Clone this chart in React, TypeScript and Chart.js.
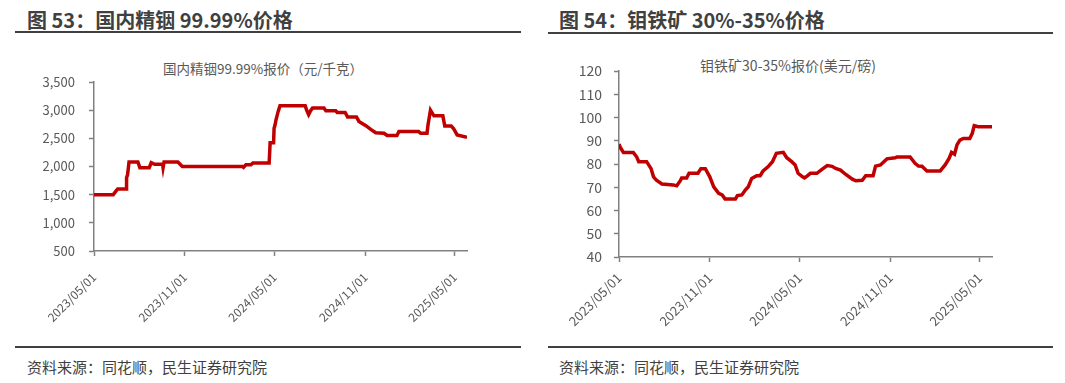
import React, { useEffect, useRef } from "react";
import { Chart, registerables } from "chart.js";

Chart.register(...registerables);

// ---------- data ----------
const xTickLabels = ["2023/05/01", "2023/11/01", "2024/05/01", "2024/11/01", "2025/05/01"];
const xEndDate = "2025/05/26";

const indiumDates = [
  "2023-05-01", "2023-06-09", "2023-06-16", "2023-06-18", "2023-07-05", "2023-07-06", "2023-07-08", "2023-07-11",
  "2023-07-29", "2023-08-02", "2023-08-21", "2023-08-25", "2023-09-01", "2023-09-17", "2023-09-18", "2023-09-20",
  "2023-10-18", "2023-10-27", "2024-02-26", "2024-02-28", "2024-03-04", "2024-03-14", "2024-03-18", "2024-04-20",
  "2024-04-22", "2024-04-29", "2024-04-30", "2024-05-02", "2024-05-04", "2024-05-06", "2024-05-08", "2024-05-12",
  "2024-07-02", "2024-07-05", "2024-07-09", "2024-07-13", "2024-07-17", "2024-08-09", "2024-08-13", "2024-09-02",
  "2024-09-05", "2024-09-21", "2024-09-26", "2024-10-14", "2024-10-19", "2024-11-02", "2024-11-12", "2024-11-22",
  "2024-12-09", "2024-12-15", "2025-01-04", "2025-01-08", "2025-02-17", "2025-02-21", "2025-03-06", "2025-03-08",
  "2025-03-13", "2025-03-20", "2025-04-07", "2025-04-11", "2025-04-24", "2025-04-29", "2025-05-06", "2025-05-26",
];
const indiumValues = [
  1500, 1500, 1580, 1600, 1600, 1800, 1850, 2080,
  2080, 1980, 1980, 2070, 2040, 2040, 1980, 2080,
  2080, 2000, 2000, 1985, 2030, 2030, 2060, 2060,
  2420, 2420, 2680, 2740, 2830, 2900, 2970, 3080,
  3080, 3000, 2920, 2990, 3040, 3040, 2990, 2990,
  2960, 2960, 2880, 2880, 2800, 2725, 2660, 2600,
  2590, 2550, 2550, 2620, 2620, 2590, 2590, 2740,
  3000, 2900, 2900, 2720, 2720, 2670, 2560, 2520,
];

const moDates = [
  "2023-05-01", "2023-05-04", "2023-05-10", "2023-05-30", "2023-06-06", "2023-06-10", "2023-06-26", "2023-07-05",
  "2023-07-10", "2023-07-16", "2023-07-27", "2023-08-19", "2023-08-26", "2023-09-02", "2023-09-05", "2023-09-15",
  "2023-09-20", "2023-10-08", "2023-10-14", "2023-10-23", "2023-11-01", "2023-11-09", "2023-11-19", "2023-11-26",
  "2023-12-02", "2023-12-23", "2023-12-27", "2024-01-05", "2024-01-12", "2024-01-18", "2024-01-25", "2024-02-04",
  "2024-02-11", "2024-02-17", "2024-02-27", "2024-03-07", "2024-03-15", "2024-03-29", "2024-04-05", "2024-04-15",
  "2024-04-22", "2024-04-28", "2024-05-07", "2024-05-11", "2024-05-16", "2024-05-23", "2024-06-05", "2024-06-16",
  "2024-06-26", "2024-07-06", "2024-07-13", "2024-07-23", "2024-08-02", "2024-08-16", "2024-08-23", "2024-09-05",
  "2024-09-12", "2024-09-27", "2024-10-02", "2024-10-12", "2024-10-25", "2024-11-11", "2024-11-14", "2024-12-11",
  "2024-12-21", "2024-12-28", "2025-01-04", "2025-01-14", "2025-02-10", "2025-02-20", "2025-02-28", "2025-03-05",
  "2025-03-11", "2025-03-16", "2025-03-22", "2025-03-29", "2025-04-11", "2025-04-16", "2025-04-20", "2025-04-28",
  "2025-05-26",
];
const moValues = [
  88.5, 87, 85, 85, 83, 81, 81, 78,
  74.5, 73, 71.4, 71, 70.6, 72.7, 74, 74,
  76, 76, 78, 78, 74.5, 70.2, 67.4, 66.7,
  65, 65, 66.4, 66.7, 68.8, 70.2, 73.8, 75,
  75, 77, 78.8, 81, 84.6, 85, 82.7, 81,
  79.6, 76, 74.5, 74, 74.8, 76, 76, 77.8,
  79.3, 79, 78.1, 77.4, 75.6, 73.5, 72.8, 73,
  75, 75, 79.1, 79.6, 82.2, 82.7, 83, 83,
  80.3, 79.1, 79, 77, 77, 79.6, 82.4, 85,
  84.2, 88.2, 90.3, 91, 91, 93.2, 96.5, 96,
  96,
];

const indiumYTicks = [500, 1000, 1500, 2000, 2500, 3000, 3500];
const moYTicks = [40, 50, 60, 70, 80, 90, 100, 110, 120];

// ---------- helpers ----------
const BASE = Date.UTC(2023, 4, 1);
const dayOf = (s: string) =>
  (Date.UTC(+s.slice(0, 4), +s.slice(5, 7) - 1, +s.slice(8, 10)) - BASE) / 86400000;

const FONT = '"Microsoft YaHei", "Noto Sans CJK SC", "Open Sans", sans-serif';
const LINE_COLOR = "#C00000";
const AXIS_COLOR = "#808080";
const TEXT_COLOR = "#595959";

type PanelProps = {
  dates: string[];
  values: number[];
  yTicks: number[];
  canvasLeft: number;
  canvasTop: number;
  canvasW: number;
  canvasH: number;
  areaLeft: number;
  areaTop: number;
  areaRight: number;
  areaBottom: number;
  yFont: number;
  xFont: number;
  yPad: number;
  xPad: number;
  thousands: boolean;
};

function LinePanel(p: PanelProps) {
  const ref = useRef<HTMLCanvasElement | null>(null);
  useEffect(() => {
    if (!ref.current) return;
    const xTickDays = xTickLabels.map((l) => dayOf(l.replace(/\//g, "-")));
    const xMax = dayOf(xEndDate.replace(/\//g, "-"));
    const points = p.dates.map((d, i) => ({ x: dayOf(d), y: p.values[i] }));
    const yAxisWidth = p.areaLeft - p.canvasLeft;
    const xAxisHeight = p.canvasTop + p.canvasH - p.areaBottom;
    const chart = new Chart(ref.current, {
      type: "line",
      data: {
        datasets: [
          {
            data: points,
            borderColor: LINE_COLOR,
            borderWidth: 3.5,
            pointRadius: 0,
            tension: 0,
            fill: false,
          },
        ],
      },
      options: {
        responsive: false,
        animation: false,
        events: [],
        layout: {
          padding: {
            top: p.areaTop - p.canvasTop,
            right: p.canvasLeft + p.canvasW - p.areaRight,
            left: 0,
            bottom: 0,
          },
        },
        plugins: { legend: { display: false }, tooltip: { enabled: false }, title: { display: false } },
        scales: {
          x: {
            type: "linear",
            min: 0,
            max: xMax,
            offset: false,
            afterBuildTicks: (scale: any) => {
              scale.ticks = xTickDays.map((v) => ({ value: v }));
            },
            afterFit: (scale: any) => {
              scale.height = xAxisHeight;
            },
            ticks: {
              autoSkip: false,
              minRotation: 45,
              maxRotation: 45,
              padding: p.xPad,
              color: TEXT_COLOR,
              font: { family: FONT, size: p.xFont },
              callback: (v: any) => {
                const i = xTickDays.indexOf(Number(v));
                return i >= 0 ? xTickLabels[i] : "";
              },
            },
            grid: {
              display: true,
              drawOnChartArea: false,
              drawTicks: true,
              tickLength: 5,
              tickColor: AXIS_COLOR,
              tickWidth: 1.5,
            },
            border: { display: true, color: AXIS_COLOR, width: 1.5 },
          },
          y: {
            type: "linear",
            min: p.yTicks[0],
            max: p.yTicks[p.yTicks.length - 1],
            afterBuildTicks: (scale: any) => {
              scale.ticks = p.yTicks.map((v) => ({ value: v }));
            },
            afterFit: (scale: any) => {
              scale.width = yAxisWidth;
            },
            ticks: {
              padding: p.yPad,
              color: TEXT_COLOR,
              font: { family: FONT, size: p.yFont },
              callback: (v: any) =>
                p.thousands ? Number(v).toLocaleString("en-US") : String(v),
            },
            grid: {
              display: true,
              drawOnChartArea: false,
              drawTicks: true,
              tickLength: 5,
              tickColor: AXIS_COLOR,
              tickWidth: 1.5,
            },
            border: { display: true, color: AXIS_COLOR, width: 1.5 },
          },
        },
      } as any,
    });
    return () => chart.destroy();
  }, []);
  return (
    <canvas
      ref={ref}
      width={p.canvasW}
      height={p.canvasH}
      style={{
        position: "absolute",
        left: p.canvasLeft,
        top: p.canvasTop,
        width: p.canvasW,
        height: p.canvasH,
      }}
    />
  );
}

const abs = (s: React.CSSProperties): React.CSSProperties => ({ position: "absolute", ...s });

export default function App() {
  const titleStyle: React.CSSProperties = {
    fontFamily: FONT,
    fontWeight: 700,
    fontSize: 20,
    lineHeight: "20px",
    color: "#404040",
    whiteSpace: "nowrap",
  };
  const srcStyle: React.CSSProperties = {
    fontFamily: FONT,
    fontSize: 15,
    lineHeight: "15px",
    color: "#404040",
    whiteSpace: "nowrap",
  };
  const chartTitle: React.CSSProperties = {
    fontFamily: FONT,
    color: TEXT_COLOR,
    whiteSpace: "nowrap",
    transform: "translate(-50%, -50%)",
  };
  return (
    <div
      style={{
        position: "absolute",
        left: 0,
        top: 0,
        width: 1065,
        height: 383,
        background: "#fff",
        overflow: "hidden",
      }}
    >
      {/* left panel */}
      <div style={abs({ ...titleStyle, left: 27, top: 10 })}>图 53：国内精铟 99.99%价格</div>
      <div style={abs({ left: 15, top: 31, width: 506, height: 2, background: "#404040" })} />
      <div style={abs({ ...chartTitle, fontSize: 13.5, left: 263, top: 68 })}>国内精铟99.99%报价（元/千克）</div>
      <LinePanel
        dates={indiumDates}
        values={indiumValues}
        yTicks={indiumYTicks}
        canvasLeft={0}
        canvasTop={40}
        canvasW={520}
        canvasH={300}
        areaLeft={94}
        areaTop={82}
        areaRight={467}
        areaBottom={251}
        yFont={13}
        xFont={12}
        yPad={14}
        xPad={14}
        thousands={true}
      />
      <div style={abs({ left: 15, top: 346, width: 506, height: 2, background: "#404040" })} />
      <div style={abs({ ...srcStyle, left: 27, top: 359 })}>资料来源：同花顺，民生证券研究院</div>

      {/* right panel */}
      <div style={abs({ ...titleStyle, left: 559, top: 10 })}>图 54：钼铁矿 30%-35%价格</div>
      <div style={abs({ left: 548, top: 32, width: 505, height: 2, background: "#404040" })} />
      <div style={abs({ ...chartTitle, fontSize: 14, left: 788, top: 65 })}>钼铁矿30-35%报价(美元/磅)</div>
      <LinePanel
        dates={moDates}
        values={moValues}
        yTicks={moYTicks}
        canvasLeft={535}
        canvasTop={40}
        canvasW={520}
        canvasH={300}
        areaLeft={619}
        areaTop={71}
        areaRight={992}
        areaBottom={257}
        yFont={14}
        xFont={13}
        yPad={12}
        xPad={8}
        thousands={false}
      />
      <div style={abs({ left: 548, top: 346, width: 505, height: 2, background: "#404040" })} />
      <div style={abs({ ...srcStyle, left: 559, top: 359 })}>资料来源：同花顺，民生证券研究院</div>
    </div>
  );
}
